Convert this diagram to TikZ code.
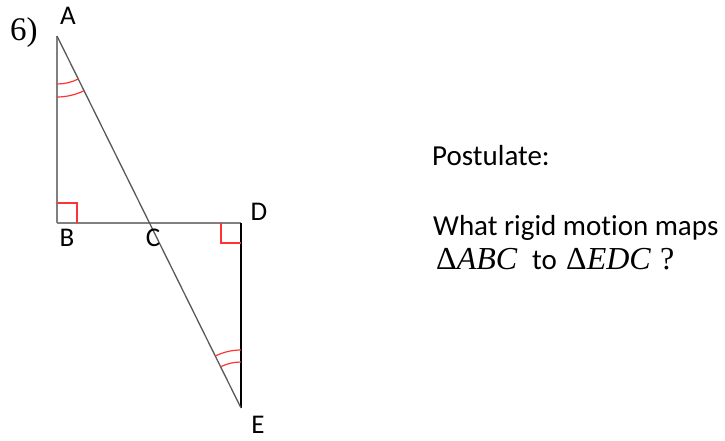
\documentclass[tikz,border=0pt]{standalone}
\usepackage{fontspec}
\setmainfont{Carlito}[Ligatures=NoCommon]
\newfontfamily\numfont{Liberation Serif}
\usetikzlibrary{calc}

\begin{document}
\begin{tikzpicture}[x=1pt, y=1pt,
  every node/.style={font=\fontsize{29}{34}\selectfont, inner sep=0pt},
  grayside/.style={draw=black!50, line width=2pt},
  longside/.style={draw=black!65, line width=1.3pt},
  darkside/.style={draw=black, line width=2pt},
  anglemark/.style={draw=red!80, line width=1.2pt},
  vertexlabel/.style={anchor=base, font=\fontsize{27}{32}\selectfont},
  serifmath/.style={anchor=base west, font=\numfont\fontsize{32}{36}\selectfont}
]
\useasboundingbox (0,0) rectangle (725,440);

%========== triangle vertices ==========
\coordinate (A) at (57,404);
\coordinate (B) at (57,217);
\coordinate (D) at (241,217);
\coordinate (E) at (241,32);
\coordinate (C) at (intersection of A--E and B--D);

%========== sides ==========
\draw[grayside] (A) -- (B);
\draw[grayside] (B) -- (D);
\draw[darkside] (D) -- (E);
\draw[longside] (A) -- (E);

%========== right angles ==========
\draw[anglemark] ($(B)+(20,0)$) -- ++(0,20) -- ++(-20,0);
\draw[anglemark] ($(D)+(-20,0)$) -- ++(0,-20) -- ++(20,0);

%========== congruent angles at A and E ==========
\draw[anglemark] (A) ++(-90:48) arc[start angle=-90, end angle=-63.7, radius=48];
\draw[anglemark] (A) ++(-90:61) arc[start angle=-90, end angle=-63.7, radius=61];
\draw[anglemark] (E) ++(90:46) arc[start angle=90, end angle=116.3, radius=46];
\draw[anglemark] (E) ++(90:58) arc[start angle=90, end angle=116.3, radius=58];

%========== labels ==========
\node[anchor=base west, font=\numfont\fontsize{33}{38}\selectfont] (num) at (10,399) {6)};
\node[vertexlabel] (lA) at (68,415) {A};
\node[vertexlabel] (lB) at (67,194) {B};
\node[vertexlabel] (lC) at (153,194) {C};
\node[vertexlabel] (lD) at (259,220) {D};
\node[vertexlabel] (lE) at (258,7) {E};

%========== question ==========
\node[anchor=base west] (post) at (432,275) {Postulate:};
\node[anchor=base west] (ask) at (433,205) {What rigid motion maps};
\node[serifmath] (abc) at (436,171) {Δ\textit{ABC}};
\node[anchor=base west] (to) at (532,171) {to};
\node[serifmath] (edc) at (566,171) {Δ\textit{EDC}};
\node[serifmath] (qm) at (660,171) {?};

\end{tikzpicture}
\end{document}
